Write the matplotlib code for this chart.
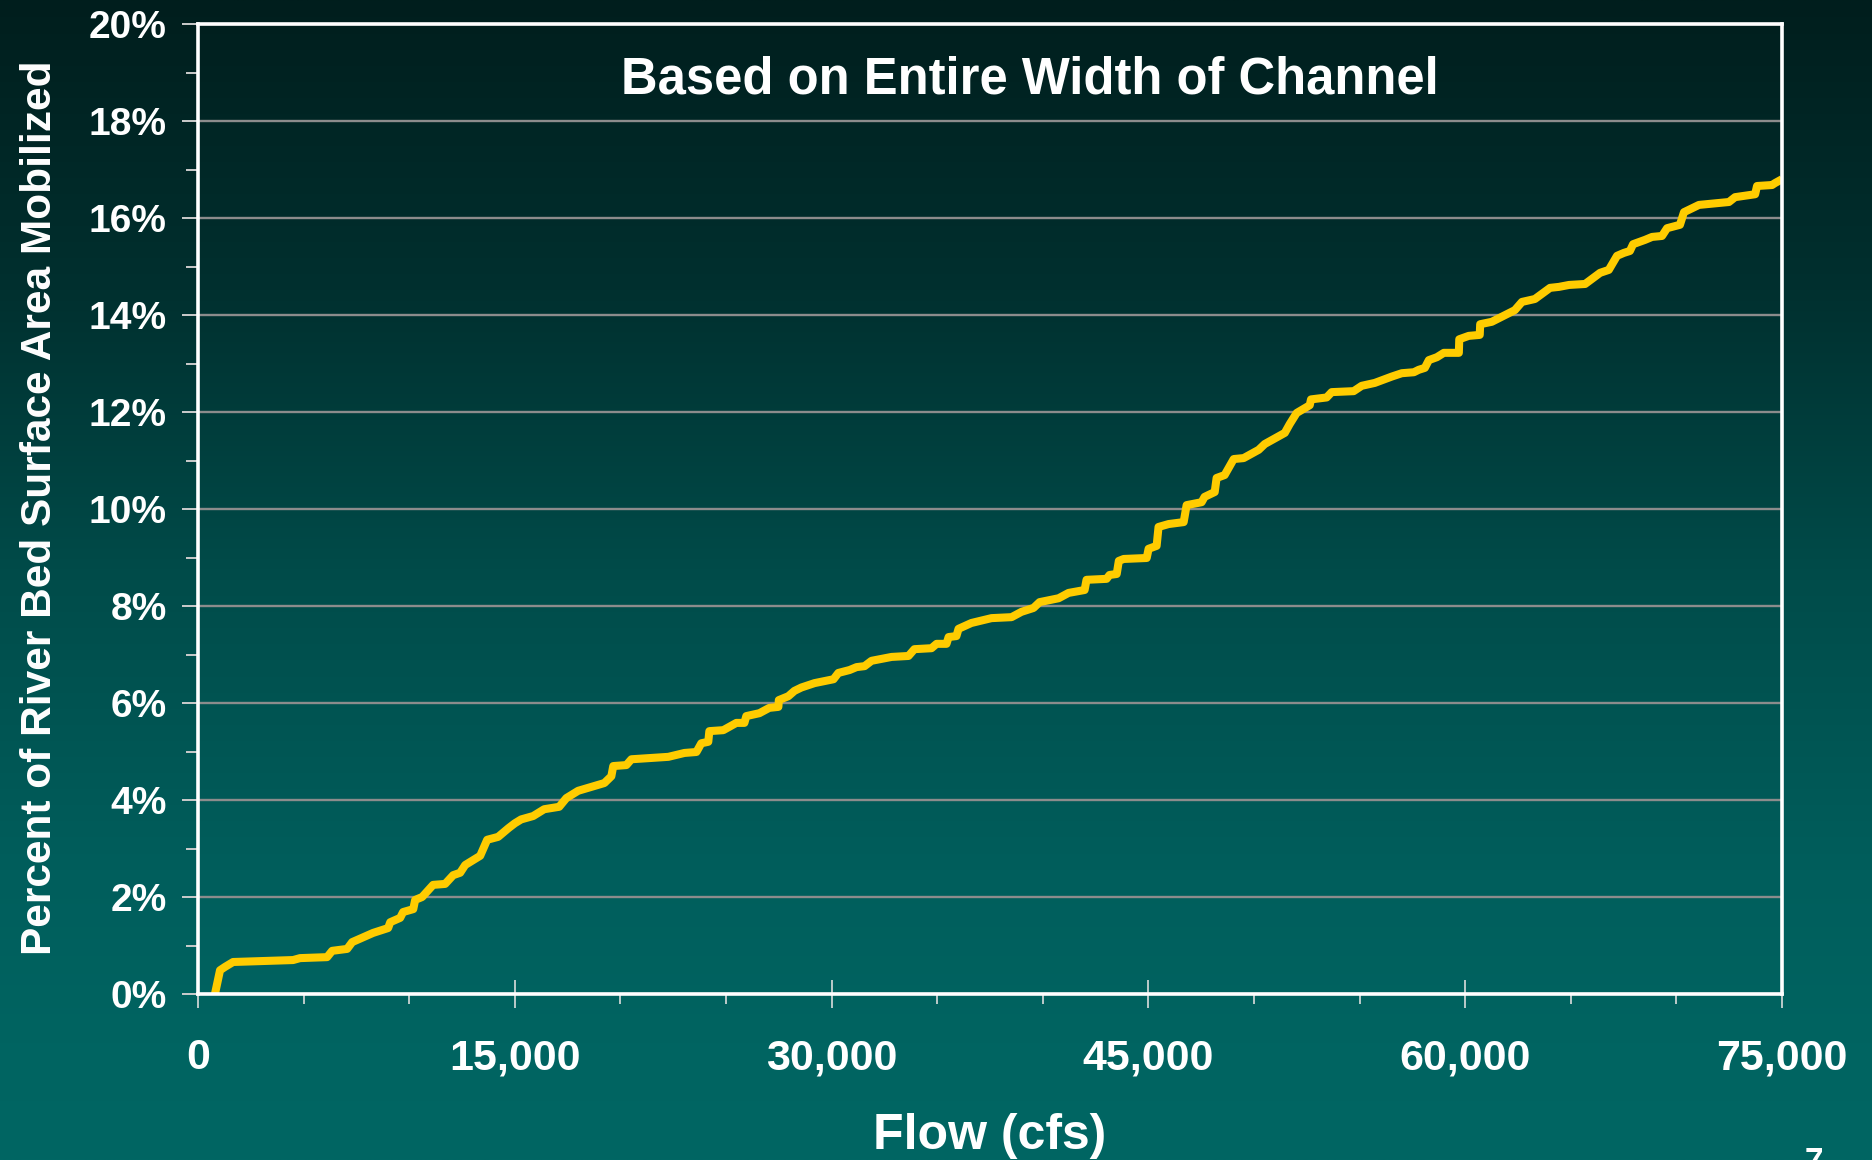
import numpy as np
import matplotlib
matplotlib.use("Agg")
import matplotlib.pyplot as plt
from matplotlib.ticker import FixedLocator, FuncFormatter

plt.rcParams['font.family'] = ['Liberation Sans', 'DejaVu Sans']
plt.rcParams['font.weight'] = 'bold'

# flow (cfs) vs. percent of bed area mobilized
flow = [800, 1040, 1280, 1660, 4500, 4830, 6110, 6350, 7060, 7300, 7820, 8290,
        9000, 9100, 9570, 9710, 10190, 10280, 10610, 11130, 11700, 12080, 12410,
        12650, 13360, 13690, 14210, 14700, 15000, 15300, 15870, 16390, 17100,
        17440, 18000, 18620, 19240, 19570, 19660, 20280, 20520, 22270, 23030,
        23600, 23830, 24160, 24210, 24870, 25490, 25870, 25960, 26580, 27050,
        27480, 27500, 27950, 28240, 28570, 29190, 30090, 30320, 30850, 31180,
        31560, 31890, 32840, 33640, 33920, 34730, 34970, 35440, 35540, 35910,
        36010, 36620, 37570, 38520, 38990, 39560, 39850, 40750, 41220, 41980,
        42070, 43020, 43160, 43500, 43600, 43830, 44920, 45010, 45390, 45480,
        45960, 46670, 46810, 47520, 47660, 48140, 48230, 48610, 49040, 49510,
        50220, 50510, 51460, 51690, 52020, 52640, 52700, 53440, 53680, 54720,
        55100, 55720, 56520, 57000, 57570, 57800, 58090, 58280, 58660, 58990,
        59700, 59720, 60170, 60690, 60710, 61260, 62070, 62350, 62690, 63300,
        64020, 64440, 64920, 65680, 66390, 66800, 67190, 67510, 67800, 67950,
        68520, 68850, 69320, 69560, 70170, 70360, 71070, 72490, 72780, 73730,
        73820, 74530, 74670, 75000]
pct = [0.0, 0.49, 0.56, 0.66, 0.70, 0.74, 0.76, 0.89, 0.93, 1.07, 1.17, 1.26,
       1.36, 1.48, 1.57, 1.69, 1.75, 1.94, 2.00, 2.25, 2.27, 2.45, 2.50,
       2.66, 2.85, 3.18, 3.24, 3.42, 3.52, 3.60, 3.67, 3.81, 3.86,
       4.04, 4.19, 4.27, 4.35, 4.49, 4.70, 4.72, 4.84, 4.89, 4.97,
       4.99, 5.17, 5.20, 5.42, 5.44, 5.59, 5.59, 5.73, 5.79, 5.90,
       5.92, 6.06, 6.14, 6.25, 6.32, 6.41, 6.49, 6.62, 6.68, 6.74,
       6.76, 6.87, 6.95, 6.97, 7.11, 7.13, 7.22, 7.22, 7.36, 7.38,
       7.53, 7.65, 7.75, 7.77, 7.88, 7.96, 8.08, 8.16, 8.27, 8.33,
       8.54, 8.56, 8.64, 8.66, 8.93, 8.97, 8.99, 9.18, 9.24, 9.63,
       9.69, 9.73, 10.08, 10.14, 10.25, 10.35, 10.64, 10.70, 11.03, 11.05,
       11.22, 11.34, 11.57, 11.75, 11.98, 12.14, 12.26, 12.30, 12.41, 12.43,
       12.54, 12.60, 12.73, 12.80, 12.82, 12.87, 12.91, 13.07, 13.13, 13.22,
       13.22, 13.50, 13.57, 13.59, 13.81, 13.86, 14.04, 14.10, 14.27, 14.33,
       14.56, 14.58, 14.62, 14.64, 14.87, 14.93, 15.22, 15.28, 15.32, 15.46,
       15.55, 15.61, 15.63, 15.79, 15.86, 16.12, 16.27, 16.33, 16.43, 16.49,
       16.66, 16.68, 16.72, 16.80]

x_ticks = [0, 15000, 30000, 45000, 60000, 75000]
y_ticks = [0, 2, 4, 6, 8, 10, 12, 14, 16, 18, 20]

fig = plt.figure(figsize=(18.72, 11.6), dpi=100)

# vertical teal gradient behind everything
bg = fig.add_axes([0, 0, 1, 1], zorder=-10)
stops = [0.0, 0.25, 0.5, 0.75, 0.9, 1.0]
reds = [0, 0, 0, 0, 0, 0]
greens = [30, 48, 76, 94, 100, 102]
blues = [29, 47, 74, 92, 97, 99]
t = np.linspace(0, 1, 512)
grad = np.stack([np.interp(t, stops, reds), np.interp(t, stops, greens),
                 np.interp(t, stops, blues)], axis=-1) / 255.0
bg.imshow(grad[:, None, :].repeat(4, axis=1), aspect='auto',
          extent=[0, 1, 0, 1], origin='upper')
bg.axis('off')

ax = fig.add_axes([0.1058, 0.1431, 0.9519 - 0.1058, 0.9793 - 0.1431])
ax.set_facecolor('none')

ax.plot(flow, pct, color='#FFCC00', lw=5.8, solid_joinstyle='round',
        solid_capstyle='butt', zorder=3)

ax.set_xlim(0, 75000)
ax.set_ylim(0, 20)

ax.yaxis.set_major_locator(FixedLocator(y_ticks))
ax.yaxis.set_minor_locator(FixedLocator(range(1, 20, 2)))
ax.xaxis.set_major_locator(FixedLocator(x_ticks))
ax.xaxis.set_minor_locator(FixedLocator([v for v in range(5000, 75000, 5000)
                                         if v % 15000]))
ax.yaxis.set_major_formatter(FuncFormatter(lambda v, p: f"{int(v)}%"))
ax.xaxis.set_major_formatter(FuncFormatter(lambda v, p: f"{int(v):,}"))

ax.grid(axis='y', which='major', color='#8c8c8c', lw=1.7, zorder=1)
for s in ax.spines.values():
    s.set_color('white')
    s.set_linewidth(2.6)
    s.set_zorder(4)

ax.tick_params(axis='y', which='major', direction='out', length=11.5, width=1.4,
               color='#cccccc', labelsize=28, labelcolor='white', pad=11)
ax.tick_params(axis='y', which='minor', direction='out', length=8.5, width=1.4,
               color='#cccccc')
ax.tick_params(axis='x', which='major', direction='inout', length=19.5, width=1.2,
               color='#dddddd', labelsize=31, labelcolor='white', pad=22)
ax.tick_params(axis='x', which='minor', direction='out', length=7, width=1.2,
               color='#dddddd')
for lab in ax.get_xticklabels() + ax.get_yticklabels():
    lab.set_fontweight('bold')

ax.set_xlabel('Flow (cfs)', fontsize=36, fontweight='bold', color='white',
              va='center')
ax.xaxis.set_label_coords(0.5, -0.146)
ax.set_ylabel('Percent of River Bed Surface Area Mobilized', fontsize=30.5,
              fontweight='bold', color='white', va='center', ha='center')
ax.yaxis.set_label_coords(-0.100, 0.501)

fig.text(0.550, 0.931, 'Based on Entire Width of Channel', fontsize=36.5,
         fontweight='bold', color='white', ha='center', va='center')
fig.text(0.969, 0.0115, '7', fontsize=24, fontweight='bold', color='white',
         ha='center', va='top')

fig.savefig('out.png', dpi=100)
